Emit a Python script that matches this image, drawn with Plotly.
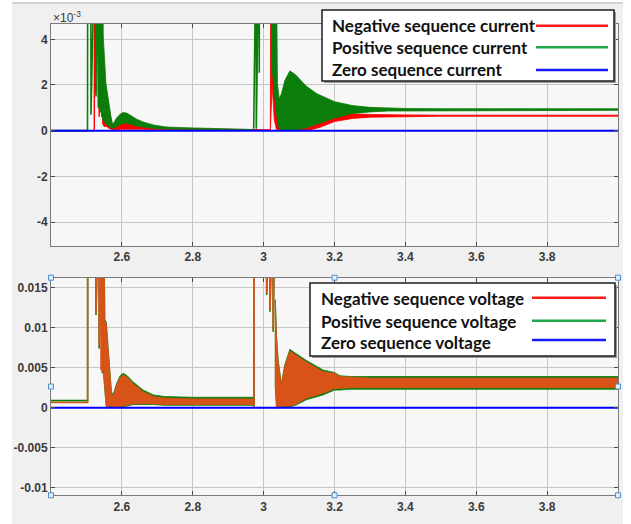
import plotly.graph_objects as go

# ---------------------------------------------------------------------------
# Sequence components after two disturbances (t ~ 2.50 s and t ~ 2.97 s)
# Currents are given in units of 1e-3 (axis shows the x10^-3 multiplier).
# Dense oscillations are stored as upper/lower envelopes (bands);
# isolated spikes are stored as explicit polyline vertices.
# Values above the visible range simply run off the top of the axes.
# ---------------------------------------------------------------------------

X_TICKS = [2.6, 2.8, 3.0, 3.2, 3.4, 3.6, 3.8]
X_TICK_TEXT = ["2.6", "2.8", "3", "3.2", "3.4", "3.6", "3.8"]
I_TICKS = [-4, -2, 0, 2, 4]
I_TICK_TEXT = ["-4", "-2", "0", "2", "4"]
V_TICKS = [-0.01, -0.005, 0.0, 0.005, 0.01, 0.015]
V_TICK_TEXT = ["-0.01", "-0.005", "0", "0.005", "0.01", "0.015"]

I_LEGEND = ["Negative sequence current", "Positive sequence current", "Zero sequence current"]
V_LEGEND = ["Negative sequence voltage", "Positive sequence voltage", "Zero sequence voltage"]

# --- negative sequence current (x1e-3) ---
I_NEG_LINE_T = [2.400, 2.5222, 2.5232, 2.5260, 2.5290, 2.5360, 2.5395, 2.5430, 2.5455]
I_NEG_LINE_V = [0.00, 0.00, 9.00, 1.64, 9.00, 0.61, 9.00, 0.61, 3.00]
I_NEG_BAND_T = [2.5455, 2.550, 2.557, 2.564, 2.572, 2.585, 2.600, 2.615, 2.630, 2.650, 2.680,
                2.720, 2.800, 2.900, 2.972, 3.019, 3.020, 3.024, 3.030, 3.036, 3.042, 3.050,
                3.070, 3.100, 3.130, 3.160, 3.200, 3.250, 3.300, 3.400, 3.500, 4.000]
I_NEG_BAND_HI = [3.00, 2.36, 1.49, 0.90, 0.30, 0.32, 0.42, 0.45, 0.40, 0.32, 0.22,
                 0.13, 0.08, 0.06, 0.05, 0.04, 9.00, 3.20, 2.10, 1.00, 0.60, 0.70,
                 1.50, 1.50, 1.30, 1.10, 0.80, 0.74, 0.71, 0.69, 0.68, 0.68]
I_NEG_BAND_LO = [0.30, 0.18, 0.18, 0.10, 0.05, 0.05, 0.06, 0.07, 0.07, 0.06, 0.05,
                 0.04, 0.03, 0.02, 0.02, 0.00, 0.00, 2.00, 0.50, 0.05, 0.00, 0.00,
                 0.00, 0.01, 0.03, 0.15, 0.40, 0.53, 0.59, 0.62, 0.63, 0.63]

# --- positive sequence current (x1e-3) ---
I_POS_LINE_T = [2.400, 2.5030, 2.5036, 2.5124, 2.5129, 2.5134, 2.5240, 2.5270, 2.5300,
                2.5335, 2.5365, 2.5400, 2.5440, None,
                2.9720, 2.9728, 2.9790, 2.9793, 2.9798, 2.9875, 2.9878, 2.9881, 3.0220]
I_POS_LINE_V = [0.00, 0.00, 9.00, 9.00, 0.70, 9.00, 9.00, 1.50, 9.00,
                1.00, 9.00, 0.80, 9.00, None,
                0.08, 9.00, 9.00, 0.08, 9.00, 9.00, 2.54, 9.00, 9.00]
I_POS_BAND_T = [2.5440, 2.5476, 2.5550, 2.5617, 2.5693, 2.5740, 2.5850, 2.5950, 2.6040,
                2.6150, 2.6300, 2.6420, 2.6600, 2.6890, 2.7200, 2.7360, 2.8000, 2.9000,
                2.9720, None,
                3.0220, 3.0350, 3.0390, 3.0440, 3.0500, 3.0600, 3.0740, 3.0900, 3.1200,
                3.1500, 3.2000, 3.2500, 3.3000, 3.3500, 3.4000, 3.5000, 4.0000]
I_POS_BAND_HI = [9.00, 4.10, 2.07, 1.34, 0.61, 0.25, 0.55, 0.72, 0.80,
                 0.76, 0.62, 0.50, 0.38, 0.25, 0.17, 0.15, 0.12, 0.09,
                 0.08, None,
                 9.00, 9.00, 2.07, 1.40, 1.60, 2.20, 2.62, 2.45, 1.95,
                 1.62, 1.27, 1.10, 1.02, 0.98, 0.97, 0.96, 0.96]
I_POS_BAND_LO = [0.60, 0.45, 0.30, 0.20, 0.15, 0.10, 0.15, 0.25, 0.32,
                 0.32, 0.26, 0.20, 0.15, 0.10, 0.07, 0.06, 0.05, 0.05,
                 0.05, None,
                 3.00, 0.90, 0.40, 0.10, 0.02, 0.02, 0.02, 0.02, 0.12,
                 0.30, 0.55, 0.75, 0.82, 0.86, 0.88, 0.89, 0.89]

# --- zero sequence current ---
I_ZERO_T = [2.4, 4.0]
I_ZERO_V = [0.0, 0.0]

# --- negative sequence voltage ---
V_NEG_LINE_T = [2.400, 2.5033, 2.5036, 2.5266, 2.5270, 2.5274, 2.5356, 2.5360, 2.5364,
                2.5408, 2.5412, 2.5416, 2.5446, 2.5450, 2.5454, 2.5480, None,
                2.9715, 2.9728, 2.9737, 3.0082, 3.0086, 3.0090, 3.0176, 3.0180, 3.0184,
                3.0266, 3.0270, 3.0274, 3.0330]
V_NEG_LINE_V = [0.00065, 0.00065, 0.0300, 0.0300, 0.0118, 0.0300, 0.0300, 0.0078, 0.0300,
                0.0300, 0.0047, 0.0300, 0.0300, 0.0045, 0.0300, 0.0300, None,
                0.0004, 0.0000, 0.0300, 0.0300, 0.0143, 0.0300, 0.0300, 0.0122, 0.0300,
                0.0300, 0.0097, 0.0300, 0.0300]
V_NEG_BAND_T = [2.5480, 2.5520, 2.5560, 2.5610, 2.5655, 2.5705, 2.5750, 2.5850, 2.5950,
                2.6040, 2.6150, 2.6320, 2.6600, 2.6890, 2.7200, 2.8000, 2.9000, 2.9715, None,
                3.0330, 3.0365, 3.0410, 3.0455, 3.0500, 3.0600, 3.0740, 3.0900, 3.1210,
                3.1680, 3.2000, 3.2150, 3.2440, 3.3000, 3.4000, 4.0000]
V_NEG_BAND_HI = [0.0300, 0.0108, 0.0105, 0.0076, 0.0051, 0.0018, 0.0014, 0.0028, 0.0038,
                 0.0041, 0.0038, 0.0030, 0.0020, 0.0014, 0.0012, 0.0011, 0.0011, 0.0011, None,
                 0.0133, 0.0087, 0.0058, 0.0041, 0.0028, 0.0052, 0.0071, 0.0066, 0.0057,
                 0.0045, 0.0043, 0.0039, 0.0038, 0.0037, 0.0037, 0.0037]
V_NEG_BAND_LO = [0.0045, 0.0020, 0.0001, 0.0001, 0.0003, 0.0001, 0.0001, 0.0001, 0.0001,
                 0.0002, 0.0003, 0.0005, 0.0005, 0.0005, 0.0004, 0.0004, 0.0004, 0.0004, None,
                 0.0026, 0.0001, 0.0000, 0.0000, 0.0001, 0.0002, 0.0002, 0.0004, 0.0012,
                 0.0018, 0.0024, 0.0024, 0.0025, 0.0025, 0.0025, 0.0025]

# --- positive sequence voltage ---
V_POS_LINE_T = [2.400, 2.5033, 2.5036, 2.5266, 2.5270, 2.5274, 2.5356, 2.5360, 2.5364,
                2.5446, 2.5450, 2.5454, 2.5480, None,
                2.9715, 2.9728, 2.9737, 3.0082, 3.0086, 3.0090, 3.0176, 3.0180, 3.0184,
                3.0266, 3.0270, 3.0274, 3.0330]
V_POS_LINE_V = [0.00088, 0.00088, 0.0300, 0.0300, 0.0116, 0.0300, 0.0300, 0.0074, 0.0300,
                0.0300, 0.0043, 0.0300, 0.0300, None,
                0.0013, 0.0002, 0.0300, 0.0300, 0.0141, 0.0300, 0.0300, 0.0120, 0.0300,
                0.0300, 0.0095, 0.0300, 0.0300]
V_POS_BAND_T = V_NEG_BAND_T
V_POS_BAND_HI = [0.0300, 0.0110, 0.0107, 0.0078, 0.0053, 0.0020, 0.0016, 0.0030, 0.0040,
                 0.0043, 0.0040, 0.0032, 0.0022, 0.0016, 0.0014, 0.0013, 0.0013, 0.0013, None,
                 0.0135, 0.0089, 0.0060, 0.0043, 0.0030, 0.0054, 0.0073, 0.0068, 0.0059,
                 0.0047, 0.0044, 0.0040, 0.0039, 0.0039, 0.0039, 0.0039]
V_POS_BAND_LO = [0.0043, 0.0018, 0.0000, 0.0000, 0.0001, 0.0000, 0.0000, 0.0000, 0.0000,
                 0.0001, 0.0002, 0.0004, 0.0004, 0.0004, 0.0003, 0.0003, 0.0003, 0.0003, None,
                 0.0024, 0.0000, 0.0000, 0.0000, 0.0000, 0.0001, 0.0001, 0.0003, 0.0010,
                 0.0016, 0.0022, 0.0022, 0.0023, 0.0023, 0.0023, 0.0023]

# --- zero sequence voltage ---
V_ZERO_T = [2.4, 4.0]
V_ZERO_V = [0.0, 0.0]

# ---------------------------------------------------------------------------
W, H = 631, 524
RED, GREEN, BLUE, ORANGE = "#ff0000", "#0b7d0b", "#0000ff", "#d95319"
LEG_RED, LEG_GREEN, LEG_BLUE = "#ff1a1a", "#22a64a", "#1a1aff"


def px(x):
    return x / W


def py(y):
    return 1 - y / H


def band_polygon(t, hi, lo):
    """Close each envelope segment into a polygon; segments separated by None."""
    xs, ys = [], []
    seg_t, seg_hi, seg_lo = [], [], []
    for a, b, c in list(zip(t, hi, lo)) + [(None, None, None)]:
        if a is None:
            if seg_t:
                if xs:
                    xs.append(None)
                    ys.append(None)
                xs += seg_t + seg_t[::-1] + [seg_t[0]]
                ys += seg_hi + seg_lo[::-1] + [seg_hi[0]]
            seg_t, seg_hi, seg_lo = [], [], []
        else:
            seg_t.append(a)
            seg_hi.append(b)
            seg_lo.append(c)
    return xs, ys


fig = go.Figure()


def add_band(t, hi, lo, color, xa, ya):
    xs, ys = band_polygon(t, hi, lo)
    fig.add_trace(go.Scatter(x=xs, y=ys, mode="lines", fill="toself", fillcolor=color,
                             line=dict(color=color, width=0.8), xaxis=xa, yaxis=ya,
                             showlegend=False, hoverinfo="skip"))


def add_line(t, v, color, width, xa, ya):
    fig.add_trace(go.Scatter(x=t, y=v, mode="lines", line=dict(color=color, width=width),
                             xaxis=xa, yaxis=ya, showlegend=False, connectgaps=False))


# currents: red below green, blue on top
add_band(I_NEG_BAND_T, I_NEG_BAND_HI, I_NEG_BAND_LO, RED, "x", "y")
add_line(I_NEG_LINE_T, I_NEG_LINE_V, RED, 1.4, "x", "y")
add_band(I_POS_BAND_T, I_POS_BAND_HI, I_POS_BAND_LO, GREEN, "x", "y")
add_line(I_POS_LINE_T, I_POS_LINE_V, GREEN, 1.6, "x", "y")
add_line(I_ZERO_T, I_ZERO_V, BLUE, 2, "x", "y")

# voltages: green below orange, blue on top
add_band(V_POS_BAND_T, V_POS_BAND_HI, V_POS_BAND_LO, GREEN, "x2", "y2")
add_line(V_POS_LINE_T, V_POS_LINE_V, GREEN, 1.6, "x2", "y2")
add_band(V_NEG_BAND_T, V_NEG_BAND_HI, V_NEG_BAND_LO, ORANGE, "x2", "y2")
add_line(V_NEG_LINE_T, V_NEG_LINE_V, ORANGE, 1.6, "x2", "y2")
add_line(V_ZERO_T, V_ZERO_V, BLUE, 2, "x2", "y2")

tick_font = dict(family="Liberation Sans, Arial, sans-serif", size=12, color="#3a3a3a",
                 weight="bold")
axis_common = dict(showline=True, linecolor="#7a7a7a", linewidth=1, mirror="ticks",
                   ticks="inside", ticklen=4, tickcolor="#4a4a4a", showgrid=True,
                   gridcolor="#c6c6c6", gridwidth=1, zeroline=False, tickfont=tick_font)

x_dom = [px(51), px(618)]
fig.update_layout(
    width=W, height=H, margin=dict(l=0, r=0, t=0, b=0),
    paper_bgcolor="#f0f0f0", plot_bgcolor="#f7f7f7", showlegend=False,
    xaxis=dict(domain=x_dom, range=[2.4, 4.0], tickvals=X_TICKS, ticktext=X_TICK_TEXT,
               anchor="y", **axis_common),
    yaxis=dict(domain=[py(246), py(24)], range=[-5.05, 4.67], tickvals=I_TICKS,
               ticktext=I_TICK_TEXT, anchor="x", **axis_common),
    xaxis2=dict(domain=x_dom, range=[2.4, 4.0], tickvals=X_TICKS, ticktext=X_TICK_TEXT,
                anchor="y2", **axis_common),
    yaxis2=dict(domain=[py(495.3), py(277.7)], range=[-0.01095, 0.01625], tickvals=V_TICKS,
                ticktext=V_TICK_TEXT, anchor="x2", **axis_common),
)

shapes = []
annotations = []

# white frame around the grey figure area
shapes += [
    dict(type="rect", xref="paper", yref="paper", x0=0, x1=px(12), y0=0, y1=1,
         fillcolor="white", line=dict(width=0)),
    dict(type="rect", xref="paper", yref="paper", x0=px(623), x1=1, y0=0, y1=1,
         fillcolor="white", line=dict(width=0)),
    dict(type="rect", xref="paper", yref="paper", x0=0, x1=1, y0=py(2), y1=1,
         fillcolor="white", line=dict(width=0)),
    dict(type="line", xref="paper", yref="paper", x0=px(12), x1=px(623), y0=py(3), y1=py(3),
         line=dict(color="#d4d4d4", width=2)),
]

legend_font = dict(family="Lato, Open Sans, sans-serif", size=17, color="#111111",
                   weight="bold")


def add_legend(box, text_x, rows, line_x, labels, colors):
    x0, y0, x1, y1 = box
    shapes.append(dict(type="rect", xref="paper", yref="paper",
                       x0=px(x0 + 2), x1=px(x1 + 2), y0=py(y1 + 2), y1=py(y0 + 2),
                       fillcolor="#9a9a9a", line=dict(width=0)))
    shapes.append(dict(type="rect", xref="paper", yref="paper",
                       x0=px(x0), x1=px(x1), y0=py(y1), y1=py(y0),
                       fillcolor="white", line=dict(color="#1e1e1e", width=1.5)))
    for (ty, ly), label, col in zip(rows, labels, colors):
        annotations.append(dict(xref="paper", yref="paper", x=px(text_x), y=py(ty),
                                xanchor="left", yanchor="middle", text=label,
                                showarrow=False, font=legend_font))
        shapes.append(dict(type="line", xref="paper", yref="paper",
                           x0=px(line_x[0]), x1=px(line_x[1]), y0=py(ly), y1=py(ly),
                           line=dict(color=col, width=2.5)))


add_legend((322, 10, 614, 81), 330, [(25, 25.7), (47.5, 47.3), (69.5, 70.0)],
           (536, 608), I_LEGEND, [LEG_RED, LEG_GREEN, LEG_BLUE])
add_legend((310, 283, 615, 356), 319, [(298.5, 297.7), (321, 320.7), (342, 340.0)],
           (532, 606), V_LEGEND, [LEG_RED, LEG_GREEN, LEG_BLUE])

# selection handles around the lower axes
for hx in (51, 334.5, 618):
    for hy in (277.7, 386.5, 495.3):
        if hx == 334.5 and hy == 386.5:
            continue
        shapes.append(dict(type="rect", xref="paper", yref="paper",
                           x0=px(hx - 2.5), x1=px(hx + 2.5), y0=py(hy + 2.5), y1=py(hy - 2.5),
                           fillcolor="#e3eefa", line=dict(color="#4a8fd0", width=1)))

# exponent label of the current axis
annotations.append(dict(xref="paper", yref="paper", x=px(51), y=py(17), xanchor="left",
                        yanchor="middle", text="×10<sup>-3</sup>", showarrow=False,
                        font=dict(family="Liberation Sans, Arial, sans-serif", size=12,
                                  color="#3a3a3a")))

fig.update_layout(shapes=shapes, annotations=annotations)
fig.write_html("out.html")
